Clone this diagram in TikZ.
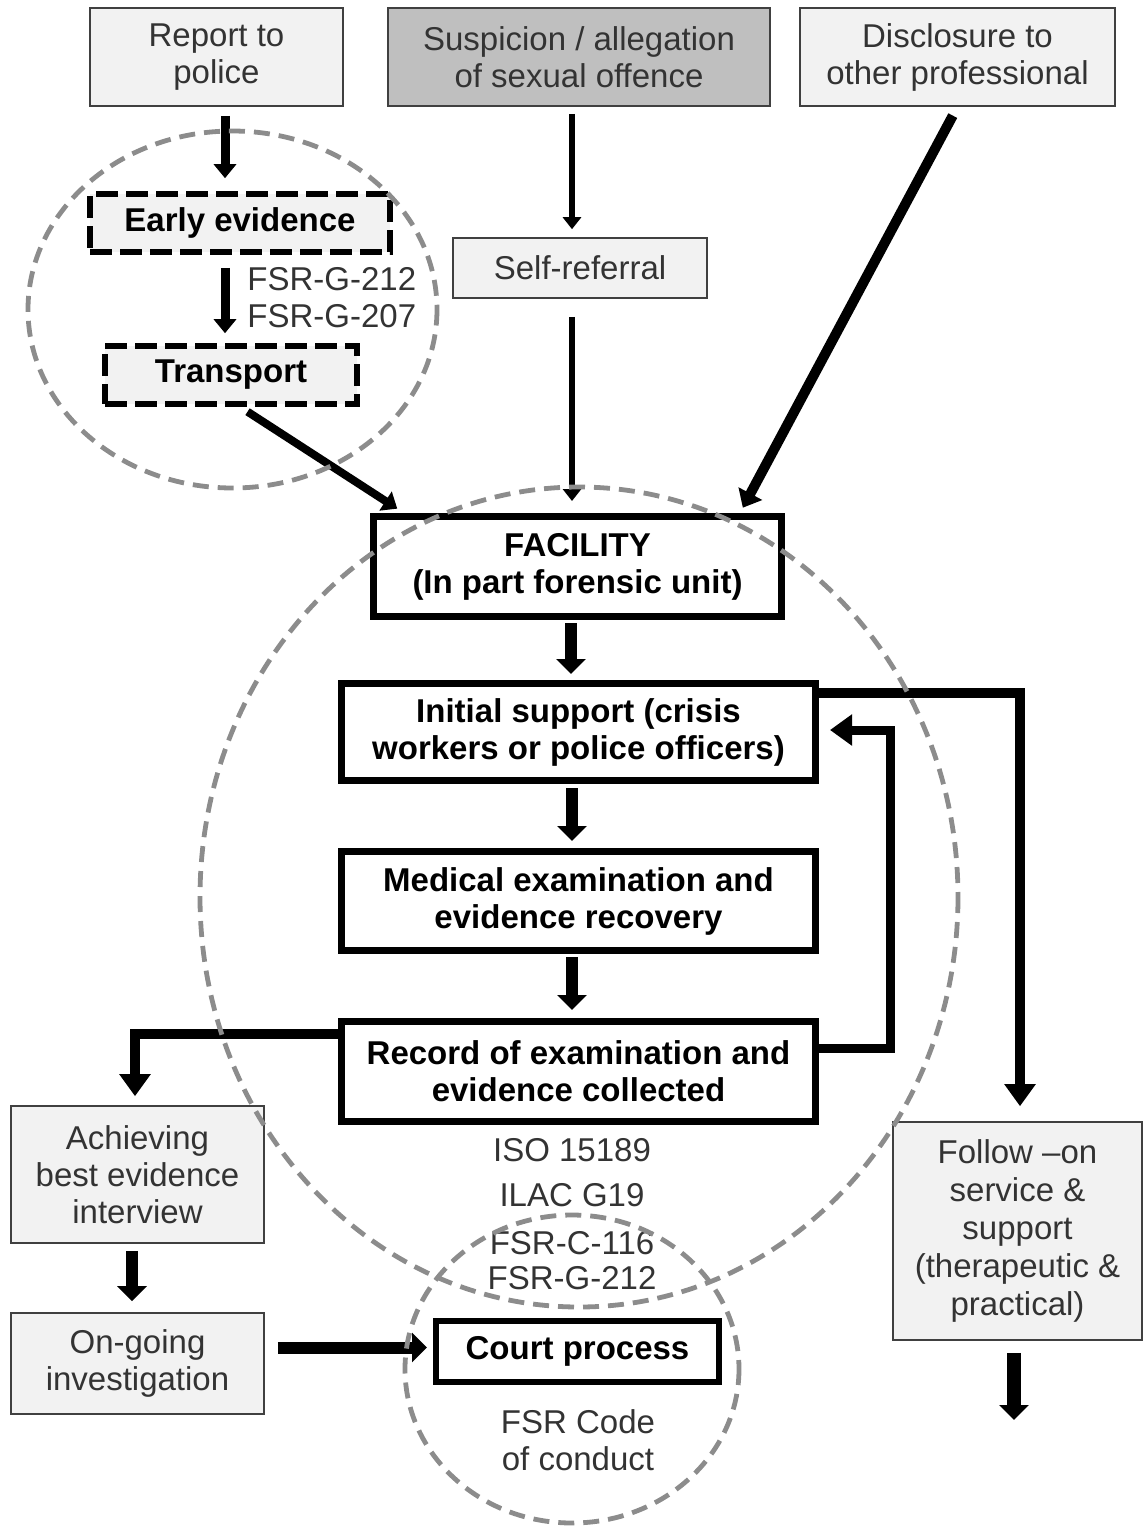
\documentclass[tikz,border=0pt]{standalone}
\usepackage{fontspec}
\setmainfont{Liberation Sans}
\usetikzlibrary{arrows.meta}
\definecolor{lg}{RGB}{242,242,242}
\definecolor{dg}{RGB}{191,191,191}
\definecolor{ringgray}{RGB}{140,140,140}
\newcommand\bxfont{\fontsize{16.5}{18.5}\selectfont}

\tikzset{
  plain/.style={draw=black!75, line width=0.8pt, fill=lg, text=black!80, align=center, inner sep=0pt, font=\bxfont},
  heavybox/.style={draw=black, line width=3.5pt, fill=white, align=center, inner sep=0pt, font=\bxfont\bfseries},
  dashbox/.style={draw=black, line width=2.8pt, dash pattern=on 11pt off 4pt, fill=lg, inner sep=0pt, font=\bxfont\bfseries},
  reftext/.style={text=black!80, font=\bxfont, inner sep=0pt},
  zone/.style={draw=ringgray, line width=2.4pt, dash pattern=on 8pt off 4.5pt},
  thinarr/.style={line width=3pt, -{Triangle[width=9pt,length=6pt]}},
  midarr/.style={line width=4.5pt, -{Triangle[width=11pt,length=7pt]}},
  fatarr/.style={line width=6pt, -{Triangle[width=14.5pt,length=7.5pt]}},
  routearr/.style={line width=5pt, -{Triangle[width=15pt,length=11pt]}}
}

\begin{document}
\begin{tikzpicture}[x=0.5pt,y=-0.5pt]
\useasboundingbox (0,0) rectangle (1142,1526);

\node[plain, minimum width=126.5pt, minimum height=49pt] (report) at (216.5,57) {Report to\\police};
\node[plain, fill=dg, minimum width=191pt, minimum height=49pt] (suspicion) at (579,57) {Suspicion / allegation\\of sexual offence};
\node[plain, minimum width=157.5pt, minimum height=49pt] (disclosure) at (957.5,57) {Disclosure to\\other professional};

\node[dashbox, minimum width=150pt, minimum height=29pt] (early) at (240,223) {Early evidence};
\node[reftext, align=left, anchor=west] (fsrlist) at (247,298) {FSR-G-212\\FSR-G-207};
\node[dashbox, minimum width=126pt, minimum height=29pt] (transport) at (231,375) {Transport};
\node[plain, minimum width=127pt, minimum height=30pt] (selfref) at (580,268) {Self-referral};

\node[heavybox, minimum width=204pt, minimum height=50pt] (facility) at (577.5,566.5) {FACILITY\\(In part forensic unit)};
\node[heavybox, minimum width=237pt, minimum height=48.5pt] (initial) at (578.5,732) {Initial support (crisis\\workers or police officers)};
\node[heavybox, minimum width=237pt, minimum height=49.5pt] (medical) at (578.5,901) {Medical examination and\\evidence recovery};
\node[heavybox, minimum width=237pt, minimum height=50pt] (record) at (578.5,1071.5) {Record of examination and\\evidence collected};
\node[reftext, align=center] (standards) at (572,1214) {ISO 15189\\[4pt]ILAC G19\\[5.5pt]FSR-C-116\\[-1pt]FSR-G-212};

\node[plain, minimum width=126.5pt, minimum height=68.5pt] (achieving) at (137.5,1174.5) {Achieving\\best evidence\\interview};
\node[plain, minimum width=126.5pt, minimum height=50.5pt] (ongoing) at (137.5,1363.5) {On-going\\investigation};
\node[heavybox, line width=3pt, minimum width=141.5pt, minimum height=30.5pt] (court) at (577.5,1351.5) {Court process};
\node[reftext, align=center] (conduct) at (578,1440) {FSR Code\\of conduct};
\node[plain, minimum width=124.5pt, minimum height=109pt] (followon) at (1017.5,1231) {Follow –on\\[0.5pt]service \&\\[0.5pt]support\\[0.5pt](therapeutic \&\\[0.5pt]practical)};
\coordinate (onward) at (1014,1420);

\draw[midarr, shorten <=4.5pt, shorten >=6.5pt] ([xshift=4.25pt]report.south) -- ([xshift=4.25pt]report.south |- early.north);
\draw[midarr, shorten <=6.5pt, shorten >=5pt] ([xshift=-7.5pt]early.south) -- ([xshift=-7.5pt]early.south |- transport.north);
\draw[midarr, line width=4pt, shorten <=4.5pt, shorten >=4pt] ([xshift=4.5pt]transport.south) -- ([xshift=17pt]facility.north west);
\draw[thinarr, shorten <=3.5pt, shorten >=4pt] ([xshift=-3.5pt]suspicion.south) -- ([xshift=-3.5pt]suspicion.south |- selfref.north);
\draw[thinarr, shorten <=9pt, shorten >=6pt] ([xshift=-4pt]selfref.south) -- ([xshift=-4pt]selfref.south |- facility.north);
\draw[midarr, line width=5pt, -{Triangle[width=13pt,length=8pt]}, shorten <=5pt, shorten >=3pt] (disclosure.south) -- ([xshift=-22.5pt]facility.north east);

\draw[fatarr, shorten <=1.5pt, shorten >=3pt] ([xshift=-3.25pt]facility.south) -- ([xshift=-3.25pt]facility.south |- initial.north);
\draw[fatarr, shorten <=2pt, shorten >=3.5pt] ([xshift=-3.25pt]initial.south) -- ([xshift=-3.25pt]initial.south |- medical.north);
\draw[fatarr, shorten <=1.5pt, shorten >=4pt] ([xshift=-3.25pt]medical.south) -- ([xshift=-3.25pt]medical.south |- record.north);

\draw[routearr, shorten >=7.5pt] ([yshift=-6.5pt]initial.north east) -| ([xshift=1.25pt]followon.north);
\draw[routearr, line width=4.5pt, shorten >=5.5pt] ([yshift=11.75pt]record.east) -- ++(71,0) |- ([yshift=1pt]initial.east);
\draw[routearr, shorten >=4.5pt] ([yshift=19pt]record.west) -| ([xshift=-1.25pt]achieving.north);
\draw[fatarr, shorten <=3.5pt, shorten >=5.5pt] ([xshift=-2.75pt]achieving.south) -- ([xshift=-2.75pt]achieving.south |- ongoing.north);
\draw[fatarr, shorten <=6.5pt, shorten >=3pt] ([yshift=8pt]ongoing.east) -- ([yshift=8pt]ongoing.east -| court.west);
\draw[fatarr, line width=7pt, shorten <=6pt] ([xshift=-1.75pt]followon.south) -- (onward);

\draw[zone] (232.5,309.5) ellipse [x radius=204.5, y radius=178.5];
\draw[zone] (579,897) ellipse [x radius=379, y radius=410];
\draw[zone] (572,1369) ellipse [x radius=167, y radius=154];
\end{tikzpicture}
\end{document}
